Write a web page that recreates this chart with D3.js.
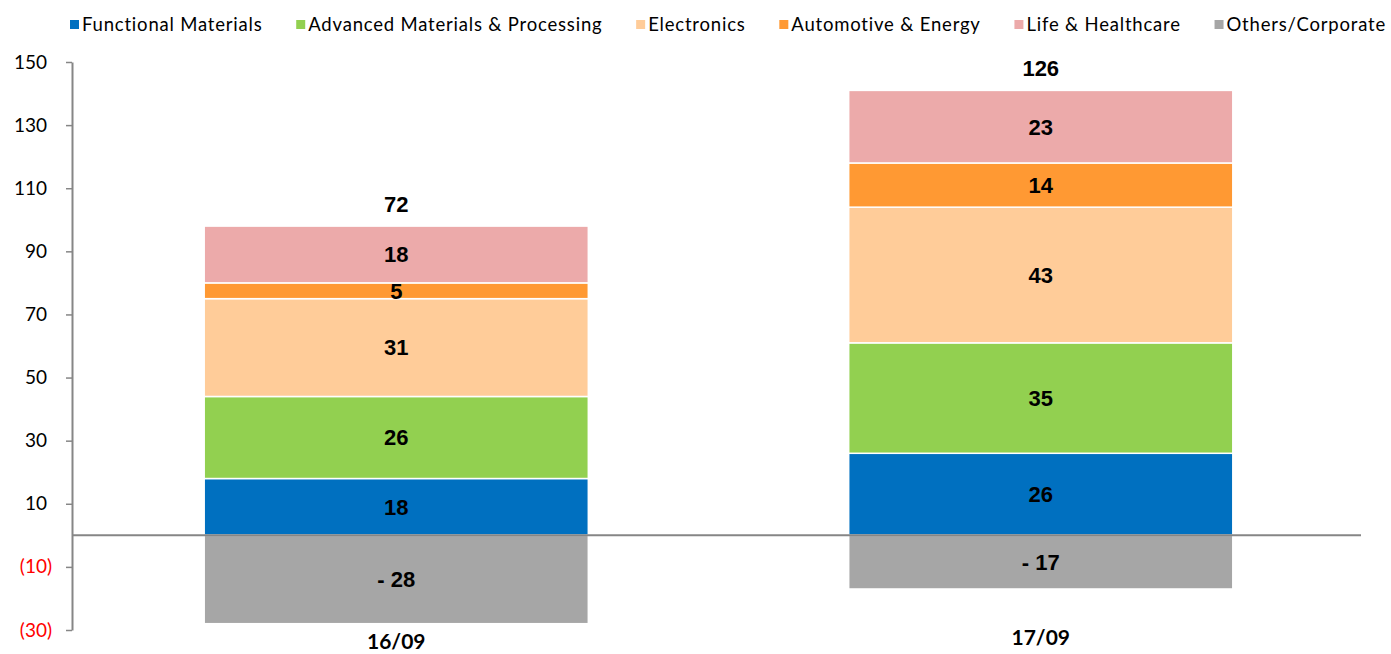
<!DOCTYPE html>
<html>
<head>
<meta charset="utf-8">
<script src="https://cdn.jsdelivr.net/npm/d3@7"></script>
<style>
  body { margin: 0; background: #fff; }
  svg { display: block; }
</style>
</head>
<body>
<svg id="main-svg" width="1391" height="654"></svg>
<script>
// data
const periods = ["16/09", "17/09"];
const segments = ["Functional Materials", "Advanced Materials & Processing", "Electronics",
                  "Automotive & Energy", "Life & Healthcare", "Others/Corporate"];
const functional = [18, 26];
const advanced = [26, 35];
const electronics = [31, 43];
const automotive = [5, 14];
const life = [18, 23];
const others = [-28, -17];
const totals = [72, 126];
const yTicks = [-30, -10, 10, 30, 50, 70, 90, 110, 130, 150];
const colors = ["#0070C0", "#92D050", "#FFCC99", "#FF9933", "#ECAAAA", "#A6A6A6"];

const svg = d3.select("#main-svg");
const series = [functional, advanced, electronics, automotive, life, others];

// scales
const x = d3.scaleBand()
    .domain(periods)
    .range([74, 1363])
    .paddingInner(0.404)
    .paddingOuter(0.202);

const y = d3.scaleLinear()
    .domain([-30, 150])
    .range([630, 62]);

// build stacked rects: positives stack up, negatives stack down
const rects = [];
periods.forEach((p, i) => {
    let pos = 0, neg = 0;
    series.forEach((s, k) => {
        const v = s[i];
        let y0, y1;
        if (v >= 0) { y0 = pos; y1 = pos + v; pos = y1; }
        else { y0 = neg + v; y1 = neg; neg = y0; }
        rects.push({ period: p, key: k, value: v, y0: y0, y1: y1 });
    });
});

// bars
svg.append("g").selectAll("rect")
    .data(rects)
    .enter().append("rect")
    .attr("x", d => x(d.period))
    .attr("width", x.bandwidth())
    .attr("y", d => y(d.y1))
    .attr("height", d => y(d.y0) - y(d.y1))
    .attr("fill", d => colors[d.key])
    .attr("stroke", "#fff")
    .attr("stroke-width", 1.5);

// value labels
svg.append("g").selectAll("text")
    .data(rects)
    .enter().append("text")
    .attr("x", d => x(d.period) + x.bandwidth() / 2)
    .attr("y", d => (y(d.y0) + y(d.y1)) / 2)
    .attr("dy", "0.36em")
    .attr("text-anchor", "middle")
    .attr("font-family", "Liberation Sans, Arial, sans-serif")
    .attr("font-weight", "bold")
    .attr("font-size", "22px")
    .attr("fill", "#000")
    .text(d => d.value < 0 ? "- " + Math.abs(d.value) : d.value);

// totals above bars
const tops = periods.map((p, i) => d3.sum(series.slice(0, 5), s => s[i]));
svg.append("g").selectAll("text")
    .data(periods)
    .enter().append("text")
    .attr("x", d => x(d) + x.bandwidth() / 2)
    .attr("y", (d, i) => y(tops[i]) - 14)
    .attr("text-anchor", "middle")
    .attr("font-family", "Liberation Sans, Arial, sans-serif")
    .attr("font-weight", "bold")
    .attr("font-size", "22px")
    .text((d, i) => totals[i]);

// y axis
const yAxis = svg.append("g")
    .attr("transform", "translate(72,0)")
    .call(d3.axisLeft(y).tickValues(yTicks).tickSize(6).tickSizeOuter(0)
        .tickFormat(d => d < 0 ? "(" + Math.abs(d) + ")" : d));
yAxis.select(".domain").attr("stroke", "#868686").attr("stroke-width", 2);
yAxis.selectAll(".tick line").attr("stroke", "#868686").attr("stroke-width", 1.5);
yAxis.selectAll(".tick text")
    .attr("x", -25)
    .attr("font-family", "Lato, 'Open Sans', sans-serif")
    .attr("font-size", "19px")
    .attr("fill", d => d < 0 ? "#FF0000" : "#000")
    .attr("dx", d => d < 0 ? "5px" : "0");

// zero line
svg.append("line")
    .attr("x1", 72).attr("x2", 1361)
    .attr("y1", y(0)).attr("y2", y(0))
    .attr("stroke", "#868686")
    .attr("stroke-width", 2);

// category labels
svg.append("g").selectAll("text")
    .data(periods)
    .enter().append("text")
    .attr("x", d => x(d) + x.bandwidth() / 2)
    .attr("y", (d, i) => i === 0 ? 649 : 645)
    .attr("text-anchor", "middle")
    .attr("font-family", "Lato, 'Open Sans', sans-serif")
    .attr("font-weight", "bold")
    .attr("font-size", "21px")
    .text(d => d);

// legend, spread between the left start and right end seen in the picture
const legend = svg.append("g").attr("transform", "translate(0,25)");
const items = legend.selectAll("g")
    .data(segments)
    .enter().append("g");
items.append("rect")
    .attr("y", -5)
    .attr("width", 9)
    .attr("height", 9)
    .attr("fill", (d, i) => colors[i]);
items.append("text")
    .attr("x", 12)
    .attr("dy", "0.35em")
    .attr("font-family", "Lato, 'Open Sans', sans-serif")
    .attr("font-size", "18.5px")
    .attr("letter-spacing", "0.8px")
    .attr("fill", "#000")
    .text(d => d);
const widths = [];
items.each(function () { widths.push(12 + d3.select(this).select("text").node().getComputedTextLength()); });
const legendStart = 70, legendEnd = 1386;
const gap = (legendEnd - legendStart - d3.sum(widths)) / (segments.length - 1);
let lx = legendStart;
items.each(function (d, i) {
    d3.select(this).attr("transform", `translate(${lx},0)`);
    lx += widths[i] + gap;
});
</script>
</body>
</html>
